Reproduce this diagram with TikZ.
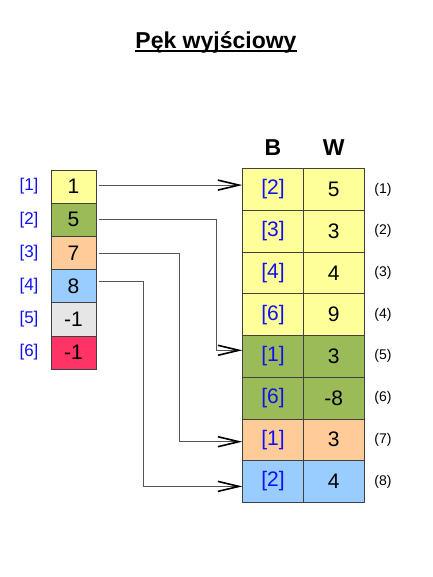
\documentclass[tikz,border=0pt]{standalone}
\usepackage{fontspec}
\setmainfont{Liberation Sans}
\usetikzlibrary{arrows.meta}
\definecolor{cYel}{HTML}{FFFF99}
\definecolor{cGrn}{HTML}{9BBB59}
\definecolor{cOrg}{HTML}{FFCC99}
\definecolor{cBlu}{HTML}{99CCFF}
\definecolor{cGry}{HTML}{E6E6E6}
\definecolor{cRed}{HTML}{FF3366}
\definecolor{cIdx}{HTML}{1010F0}
\definecolor{cLine}{HTML}{555555}
\tikzset{
  cell/.style={draw=black!75, line width=0.7pt, minimum width=45pt, minimum height=33.2pt, inner sep=0pt, font=\fontsize{21}{21}\selectfont},
  tcell/.style={cell, minimum width=60.6pt, minimum height=41.7pt},
  idx/.style={text=cIdx, font=\fontsize{17}{17}\selectfont},
  num/.style={font=\fontsize{14}{14}\selectfont},
  head/.style={font=\bfseries\fontsize{23}{23}\selectfont, inner sep=0pt},
  conn/.style={draw=cLine, line width=0.9pt, -{Straight Barb[length=21pt,width=10pt,line width=1.6pt,color=black]}}
}
\begin{document}
\begin{tikzpicture}[x=1pt,y=-1pt]
  \useasboundingbox (0,0) rectangle (432,577);
  \node[head, anchor=base] (title) at (216,48.5) {Pęk wyjściowy};
  \draw[line width=1.4pt] ([yshift=-2.5pt]title.base west) -- ([yshift=-2.5pt]title.base east);
  % left array
  \foreach \v/\c [count=\i] in {1/cYel,5/cGrn,7/cOrg,8/cBlu,-1/cGry,-1/cRed}{
    \node[cell, fill=\c] (l\i) at (73.5,{186.6+33.2*(\i-1)}) {\v};
    \node[idx] (i\i) at (29,{186.6+33.2*(\i-1)}) {[\i]};
  }
  % table B / W
  \node[head, anchor=base] (hB) at (273,156) {B};
  \node[head, anchor=base] (hW) at (333.6,156) {W};
  \foreach \b/\w/\c [count=\i] in {2/5/cYel,3/3/cYel,4/4/cYel,6/9/cYel,1/3/cGrn,6/-8/cGrn,1/3/cOrg,2/4/cBlu}{
    \node[tcell, fill=\c, text=cIdx] (b\i) at (273,{189.5+41.7*(\i-1)}) {[\b]};
    \node[tcell, fill=\c] (w\i) at (333.6,{189.5+41.7*(\i-1)}) {\w};
    \node[num] (n\i) at (383,{189.5+41.7*(\i-1)}) {(\i)};
  }
  % pointers
  \draw[conn] ([xshift=3pt,yshift=1.5pt]l1.east) -- ([yshift=1.5pt]l1.east -| b1.west);
  \draw[conn] ([xshift=3pt]l2.east) -| ([xshift=-26pt,yshift=6pt]b5.west) -- ([yshift=6pt]b5.west);
  \draw[conn] ([xshift=3pt]l3.east) -| ([xshift=-62.7pt,yshift=-2pt]b7.west) -- ([yshift=-2pt]b7.west);
  \draw[conn] ([xshift=3pt,yshift=5pt]l4.east) -| ([xshift=-99.4pt,yshift=-5pt]b8.west) -- ([yshift=-5pt]b8.west);
\end{tikzpicture}
\end{document}
